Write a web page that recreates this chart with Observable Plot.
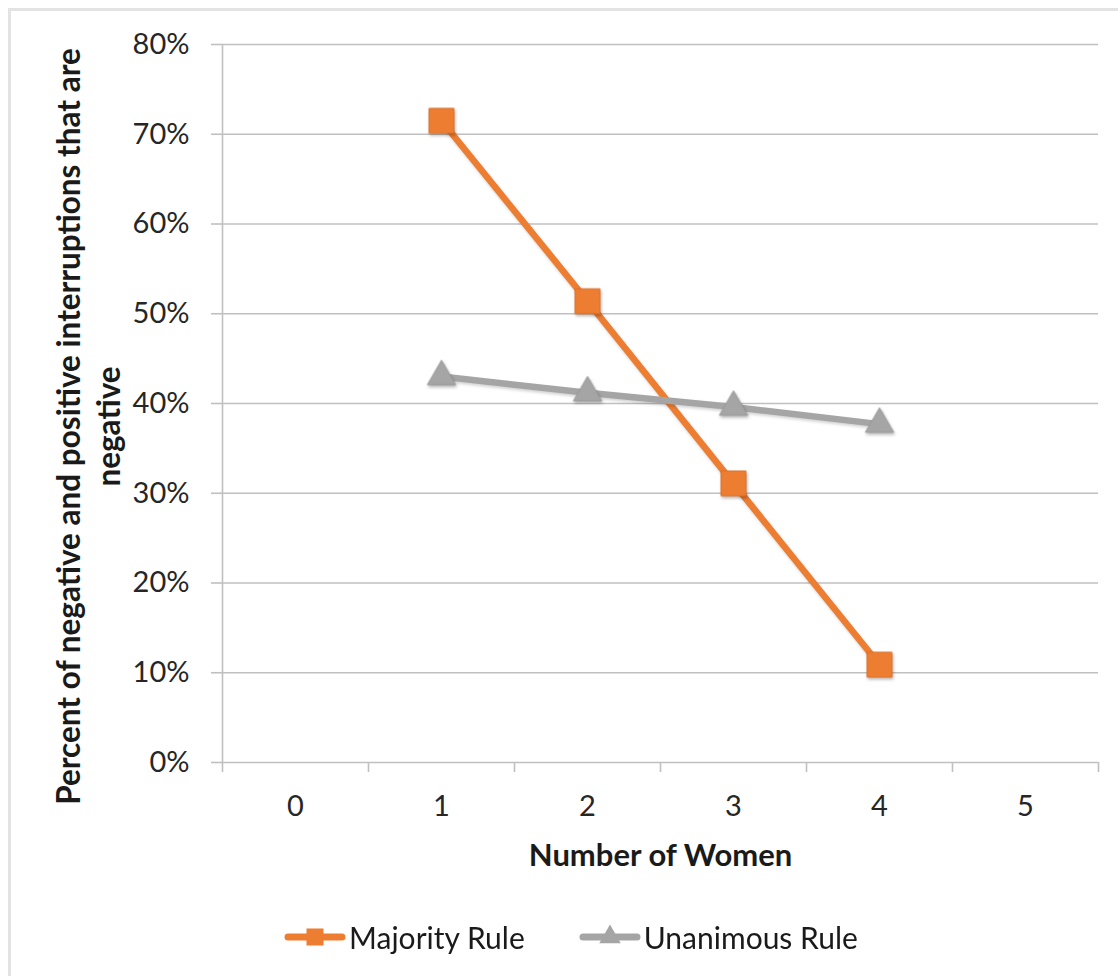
<!DOCTYPE html>
<html>
<head>
<meta charset="utf-8">
<script src="https://cdn.jsdelivr.net/npm/d3@7"></script>
<script src="https://cdn.jsdelivr.net/npm/@observablehq/plot@0.6"></script>
<style>
  html, body { margin: 0; padding: 0; background: #fff; }
  body { width: 1118px; height: 976px; position: relative; overflow: hidden; font-family: Lato, "Open Sans", sans-serif; }
  #frame { position: absolute; left: 8px; top: 8px; width: 1200px; height: 1200px; border-left: 3px solid #e3e3e3; border-top: 3px solid #e3e3e3; box-sizing: border-box; pointer-events: none; }
  #chart { position: absolute; left: 0; top: 0; }
  #chart svg g[aria-label="dot"] { filter: drop-shadow(1px 2px 1.5px rgba(0,0,0,0.28)); }
  #chart svg g[aria-label="line"] { filter: drop-shadow(1px 2px 1.5px rgba(0,0,0,0.18)); }
  #legend { position: absolute; left: 0; top: 912px; width: 1118px; height: 50px; display: flex; justify-content: center; align-items: center; gap: 54px; padding-left: 24px; box-sizing: border-box; font-size: 30px; color: #1a1a1a; }
  .item { display: flex; align-items: center; gap: 3px; }
</style>
</head>
<body>
<div id="chart"></div>
<div id="frame"></div>
<div id="legend"></div>
<script>
// ---- data ----
const categories = [0, 1, 2, 3, 4, 5];
const xTickLabels = ["0", "1", "2", "3", "4", "5"];
const women = [1, 2, 3, 4];
const majorityRule = [0.715, 0.514, 0.311, 0.109];
const unanimousRule = [0.430, 0.412, 0.396, 0.377];
const yTicks = [0, 0.1, 0.2, 0.3, 0.4, 0.5, 0.6, 0.7, 0.8];
const seriesNames = ["Majority Rule", "Unanimous Rule"];
const seriesColors = ["#ED7D31", "#A5A5A5"];
const xTitle = "Number of Women";
const yTitle = "Percent of negative and positive interruptions that are\nnegative";

// ---- tables built from the arrays ----
const majTable = women.map((w, i) => ({women: w, value: majorityRule[i]}));
const unaTable = women.map((w, i) => ({women: w, value: unanimousRule[i]}));
const boundaries = categories.map(c => c - 0.5).concat([categories[categories.length - 1] + 0.5]);
const gridColor = "#c0c0c0";

const plot = Plot.plot({
  width: 1118,
  height: 900,
  marginLeft: 222,
  marginRight: 20,
  marginTop: 44,
  marginBottom: 138,
  x: {domain: [boundaries[0], boundaries[boundaries.length - 1]], axis: null},
  y: {domain: [0, 0.8], axis: null},
  style: {fontFamily: "Lato, 'Open Sans', sans-serif", background: "transparent", color: "#262626"},
  marks: [
    Plot.gridY(yTicks, {stroke: gridColor, strokeOpacity: 1, strokeWidth: 1.6}),
    Plot.axisY(yTicks, {
      tickFormat: d3.format(".0%"), tickSize: 11, tickPadding: 22,
      stroke: gridColor, strokeWidth: 1.6, fontSize: 29, fill: "#262626", label: null
    }),
    Plot.ruleX([boundaries[0]], {stroke: gridColor, strokeWidth: 1.6}),
    Plot.axisX(boundaries, {tickFormat: () => "", tickSize: 10, stroke: gridColor, strokeWidth: 1.6, label: null}),
    Plot.axisX(categories, {
      tickFormat: (d, i) => xTickLabels[i], tickSize: 0, tickPadding: 33,
      fontSize: 29, fill: "#262626", label: null
    }),
    Plot.text([xTitle], {frameAnchor: "bottom", dy: 94, fontSize: 31, fontWeight: "bold", fill: "#1a1a1a", lineAnchor: "middle", textAnchor: "middle"}),
    Plot.text([yTitle], {frameAnchor: "left", rotate: -90, dx: -135, dy: 23, fontSize: 31.5, fontWeight: "bold", fill: "#1a1a1a", lineAnchor: "middle", textAnchor: "middle", lineHeight: 1.27}),
    Plot.line(majTable, {x: "women", y: "value", stroke: seriesColors[0], strokeWidth: 6.5}),
    Plot.line(unaTable, {x: "women", y: "value", stroke: seriesColors[1], strokeWidth: 6.5}),
    Plot.dot(majTable, {x: "women", y: "value", symbol: "square", r: 14, fill: seriesColors[0], stroke: "#e0702a", strokeWidth: 1}),
    Plot.dot(unaTable, {x: "women", y: "value", symbol: "triangle", r: 10.5, fill: seriesColors[1], stroke: "#9a9a9a", strokeWidth: 1})
  ]
});
document.getElementById("chart").appendChild(plot);

// ---- legend ----
const legend = document.getElementById("legend");
const symbols = ["square", "triangle"];
seriesNames.forEach((name, i) => {
  const item = document.createElement("div");
  item.className = "item";
  const sw = d3.create("svg").attr("width", 62).attr("height", 30);
  sw.append("line").attr("x1", 4).attr("x2", 58).attr("y1", 15).attr("y2", 15)
    .attr("stroke", seriesColors[i]).attr("stroke-width", 7).attr("stroke-linecap", "round");
  const sym = symbols[i] === "square" ? d3.symbolSquare : d3.symbolTriangle;
  sw.append("path").attr("transform", "translate(31,15)")
    .attr("d", d3.symbol(sym, symbols[i] === "square" ? 290 : 200)())
    .attr("fill", seriesColors[i]);
  item.appendChild(sw.node());
  const label = document.createElement("span");
  label.textContent = name;
  item.appendChild(label);
  legend.appendChild(item);
});
</script>
</body>
</html>
